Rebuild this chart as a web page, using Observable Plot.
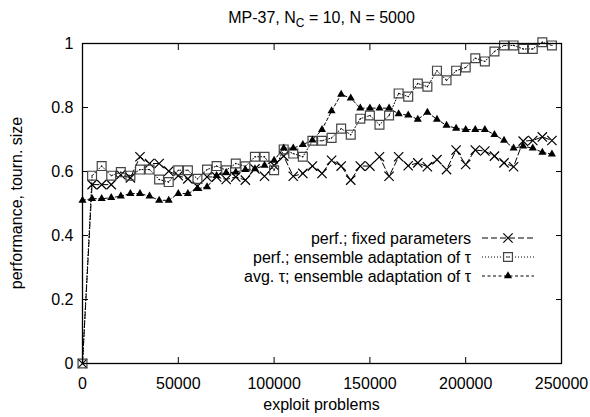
<!DOCTYPE html>
<html><head><meta charset="utf-8">
<script src="https://cdn.jsdelivr.net/npm/d3@7"></script>
<script src="https://cdn.jsdelivr.net/npm/@observablehq/plot@0.6"></script>
<style>
body{margin:0;background:#fff}
svg{font-family:"Liberation Sans",Arial,sans-serif}
</style>
</head><body><div id="chart"></div>
<script>
const xs = [0,5000,10000,15000,20000,25000,30000,35000,40000,45000,
  50000,55000,60000,65000,70000,75000,80000,85000,90000,95000,
  100000,105000,110000,115000,120000,125000,130000,135000,140000,145000,
  150000,155000,160000,165000,170000,175000,180000,185000,190000,195000,
  200000,205000,210000,215000,220000,225000,230000,235000,240000,245000];
const perfFixed = [0,0.559,0.559,0.559,0.59,0.58,0.646,0.625,0.625,0.601,
  0.587,0.577,0.554,0.583,0.583,0.575,0.583,0.573,0.608,0.585,
  0.619,0.648,0.585,0.594,0.617,0.594,0.635,0.617,0.573,0.617,
  0.617,0.646,0.585,0.646,0.618,0.627,0.615,0.637,0.606,0.667,
  0.622,0.667,0.664,0.648,0.627,0.615,0.695,0.697,0.708,0.697];
const perfEnsemble = [0,0.587,0.617,0.587,0.598,0.587,0.606,0.606,0.575,0.567,
  0.604,0.604,0.577,0.606,0.617,0.604,0.625,0.616,0.646,0.646,
  0.604,0.669,0.656,0.646,0.696,0.696,0.705,0.734,0.715,0.765,
  0.775,0.746,0.775,0.844,0.834,0.875,0.865,0.915,0.885,0.915,
  0.925,0.954,0.944,0.975,0.994,0.994,0.983,0.983,1.004,0.994];
const avgTau = [0.51,0.515,0.515,0.518,0.523,0.531,0.531,0.523,0.51,0.51,
  0.531,0.531,0.546,0.552,0.587,0.596,0.598,0.606,0.608,0.619,
  0.635,0.673,0.673,0.684,0.698,0.731,0.789,0.841,0.829,0.798,
  0.798,0.798,0.798,0.78,0.776,0.763,0.785,0.763,0.744,0.735,
  0.731,0.731,0.731,0.715,0.697,0.673,0.679,0.673,0.66,0.654];
const xTicks = [0,50000,100000,150000,200000,250000];
const yTicks = [0,0.2,0.4,0.6,0.8,1];
const seriesNames = ["perf.; fixed parameters","perf.; ensemble adaptation of \u03c4","avg. \u03c4; ensemble adaptation of \u03c4"];
const titleParts = ["MP-37, N", "C", " = 10, N = 5000"];
const xLabel = "exploit problems";
const yLabel = "performance, tourn. size";

const mk = vals => xs.map((x,i)=>({x, y: vals[i]}));
const dFixed = mk(perfFixed), dEns = mk(perfEnsemble), dTau = mk(avgTau);

const styles = [
  {dash:"6,3", symbol:"times", r:4.3, stroke:"#000", fill:"none", sw:1.2},
  {dash:"1,2", symbol:"square", r:5, stroke:"#444", fill:"none", sw:1.2},
  {dash:"3,2.5", symbol:"triangle", r:3, stroke:"none", fill:"#000", sw:1}
];
const FS = 16;
const W = 590, H = 417, ML = 82, MR = 29, MT = 43, MB = 54;

const chart = Plot.plot({
  width: W, height: H,
  marginLeft: ML, marginRight: MR, marginTop: MT, marginBottom: MB,
  style: {fontSize: FS + "px", fontFamily: '"Liberation Sans", Arial, sans-serif', background: "#fff", overflow: "visible"},
  x: {domain: [0, 250000]},
  y: {domain: [0, 1]},
  marks: [
    Plot.axisX(xTicks, {anchor: "bottom", tickSize: -6, tickPadding: 20, tickFormat: d => String(d), label: null, stroke: "#000", fill: "#000", fontSize: FS}),
    Plot.axisX(xTicks, {anchor: "top", tickSize: -6, tickFormat: () => "", label: null, stroke: "#000"}),
    Plot.axisY(yTicks, {anchor: "left", tickSize: -6, tickPadding: 15, tickFormat: d => String(d), label: null, stroke: "#000", fill: "#000", fontSize: FS}),
    Plot.axisY(yTicks, {anchor: "right", tickSize: -6, tickFormat: () => "", label: null, stroke: "#000"}),
    Plot.line(dFixed, {x: "x", y: "y", stroke: "#000", strokeWidth: 1, strokeDasharray: styles[0].dash}),
    Plot.line(dEns, {x: "x", y: "y", stroke: "#000", strokeWidth: 1, strokeDasharray: styles[1].dash}),
    Plot.line(dTau, {x: "x", y: "y", stroke: "#000", strokeWidth: 1, strokeDasharray: styles[2].dash}),
    Plot.dot(dFixed, {x: "x", y: "y", symbol: "times", r: styles[0].r, stroke: "#000", strokeWidth: 1.2}),
    Plot.dot(dEns, {x: "x", y: "y", symbol: "square", r: styles[1].r, stroke: styles[1].stroke, fill: "none", strokeWidth: 1.2}),
    Plot.dot(dEns, {x: "x", y: "y", r: 0.7, fill: "#000", stroke: "none"}),
    Plot.dot(dTau, {x: "x", y: "y", symbol: "triangle", r: styles[2].r, fill: "#000", stroke: "none"}),
    Plot.frame({stroke: "#000", strokeWidth: 1.3})
  ]
});
document.getElementById("chart").appendChild(chart);

const svg = d3.select(chart);
const cx = ML + (W - ML - MR) / 2;
// title
const t = svg.append("text").attr("x", cx).attr("y", 23).attr("text-anchor", "middle")
  .attr("font-size", FS).attr("fill", "#000");
t.append("tspan").text(titleParts[0]);
t.append("tspan").attr("font-size", FS * 0.75).attr("dy", 4).text(titleParts[1]);
t.append("tspan").attr("dy", -4).text(titleParts[2]);
// axis labels
svg.append("text").attr("x", cx).attr("y", 410).attr("text-anchor", "middle")
  .attr("font-size", FS).attr("fill", "#000").text(xLabel);
svg.append("text").attr("transform", `translate(22,${MT + (H - MT - MB) / 2}) rotate(-90)`)
  .attr("text-anchor", "middle").attr("font-size", FS).attr("fill", "#000").text(yLabel);
// legend
const rowY = [238, 257, 276];
const textX = 471, s0 = 482, s1 = 534;
seriesNames.forEach((name, i) => {
  const st = styles[i];
  const g = svg.append("g");
  g.append("text").attr("x", textX).attr("y", rowY[i]).attr("dy", "0.35em").attr("text-anchor", "end")
    .attr("font-size", FS).attr("fill", "#000").text(name);
  g.append("line").attr("x1", s0).attr("x2", s1).attr("y1", rowY[i]).attr("y2", rowY[i])
    .attr("stroke", "#000").attr("stroke-width", 1).attr("stroke-dasharray", st.dash);
  const symType = {times: d3.symbolTimes, square: d3.symbolSquare, triangle: d3.symbolTriangle}[st.symbol];
  g.append("path").attr("transform", `translate(${(s0 + s1) / 2},${rowY[i]})`)
    .attr("d", d3.symbol(symType, st.r * st.r * Math.PI)())
    .attr("fill", st.fill).attr("stroke", st.stroke).attr("stroke-width", st.sw);
  if (st.symbol === "square") {
    g.append("circle").attr("cx", (s0 + s1) / 2).attr("cy", rowY[i]).attr("r", 0.7).attr("fill", "#000");
  }
});
</script>
</body></html>
